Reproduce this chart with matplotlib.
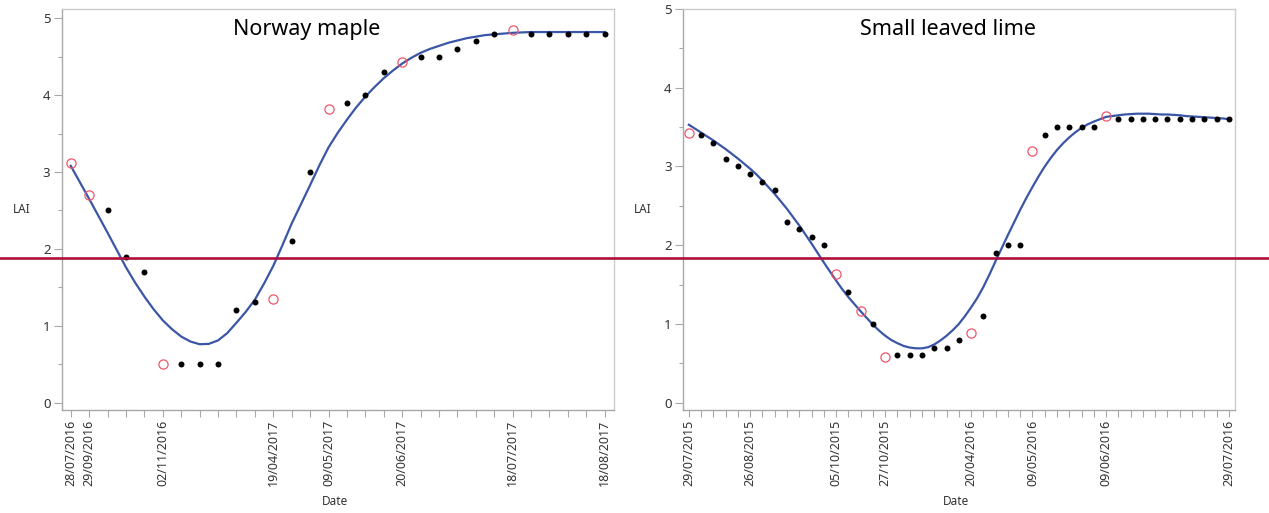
"""
LAI seasonal course for two tree species, with fitted smooth curve.
Points are evenly spaced by sampling date (ordinal x axis).
"""
import matplotlib

matplotlib.use("Agg")
import matplotlib.pyplot as plt
from matplotlib.lines import Line2D
from matplotlib.ticker import MultipleLocator

plt.rcParams["font.family"] = ["Noto Sans", "DejaVu Sans"]

# ---- Norway maple -------------------------------------------------------
maple_lai = [3.12, 2.70, 2.50, 1.90, 1.70, 0.50, 0.50, 0.50, 0.50, 1.20,
             1.31, 1.35, 2.10, 3.00, 3.82, 3.90, 4.00, 4.30, 4.43, 4.50,
             4.50, 4.60, 4.70, 4.80, 4.85, 4.80, 4.80, 4.80, 4.80, 4.80]
maple_open = [0, 1, 5, 11, 14, 18, 24]          # samples drawn as open circles
# fitted curve, read every half sample step
maple_fit = [3.08, 2.865, 2.65, 2.43, 2.21, 1.985, 1.76, 1.56, 1.38, 1.215,
             1.07, 0.955, 0.86, 0.795, 0.76, 0.765, 0.81, 0.905, 1.04, 1.18,
             1.34, 1.55, 1.78, 2.05, 2.33, 2.58, 2.83, 3.085, 3.32, 3.51,
             3.68, 3.84, 3.98, 4.105, 4.22, 4.32, 4.41, 4.485, 4.55, 4.60,
             4.64, 4.68, 4.71, 4.74, 4.76, 4.78, 4.79, 4.80, 4.81, 4.815,
             4.82, 4.82, 4.82, 4.82, 4.82, 4.82, 4.82, 4.82, 4.82]
maple_dates = {0: "28/07/2016", 1: "29/09/2016", 5: "02/11/2016",
               11: "19/04/2017", 14: "09/05/2017", 18: "20/06/2017",
               24: "18/07/2017", 29: "18/08/2017"}

# ---- Small leaved lime --------------------------------------------------
lime_lai = [3.43, 3.40, 3.30, 3.10, 3.00, 2.90, 2.80, 2.70, 2.30, 2.20,
            2.10, 2.00, 1.63, 1.40, 1.16, 1.00, 0.58, 0.60, 0.60, 0.60,
            0.70, 0.70, 0.80, 0.88, 1.10, 1.90, 2.00, 2.00, 3.20, 3.40,
            3.50, 3.50, 3.50, 3.50, 3.64, 3.60, 3.60, 3.60, 3.60, 3.60,
            3.60, 3.60, 3.60, 3.60, 3.60]
lime_open = [0, 12, 14, 16, 23, 28, 34]
lime_fit = [3.53, 3.48, 3.43, 3.38, 3.33, 3.275, 3.22, 3.16, 3.10, 3.035,
            2.97, 2.90, 2.82, 2.735, 2.65, 2.555, 2.46, 2.355, 2.25, 2.135,
            2.02, 1.90, 1.78, 1.665, 1.55, 1.44, 1.34, 1.25, 1.16, 1.075,
            0.99, 0.915, 0.85, 0.795, 0.755, 0.72, 0.70, 0.69, 0.69, 0.705,
            0.74, 0.79, 0.85, 0.92, 1.00, 1.10, 1.21, 1.33, 1.47, 1.63,
            1.80, 1.965, 2.13, 2.29, 2.45, 2.60, 2.74, 2.875, 3.00, 3.11,
            3.21, 3.295, 3.37, 3.435, 3.49, 3.535, 3.57, 3.60, 3.63, 3.64,
            3.65, 3.66, 3.665, 3.67, 3.67, 3.67, 3.665, 3.66, 3.66, 3.655,
            3.65, 3.64, 3.635, 3.63, 3.625, 3.62, 3.615, 3.61, 3.60]
lime_dates = {0: "29/07/2015", 5: "26/08/2015", 12: "05/10/2015",
              16: "27/10/2015", 23: "20/04/2016", 28: "09/05/2016",
              34: "09/06/2016", 44: "29/07/2016"}

FIT_STEP = 0.5            # spacing of the fitted-curve readings
THRESHOLD_Y = 0.4965      # figure-wide reference line (figure fraction)

FIT_COLOR = "#3b56a6"
OPEN_COLOR = "#f0566a"
REF_COLOR = "#b0103a"
SPINE_DARK = "#a8a8a8"
SPINE_LIGHT = "#cccccc"
TEXT = "#333333"


def _draw_panel(ax, lai, open_idx, fit, dates, title, title_x, ylim):
    n = len(lai)
    xs = list(range(n))
    fit_x = [k * FIT_STEP for k in range(len(fit))]
    ax.plot(fit_x, fit, color=FIT_COLOR, lw=1.6, zorder=3,
            solid_joinstyle="round")

    closed = [i for i in xs if i not in open_idx]
    ax.plot(closed, [lai[i] for i in closed], "o", ms=4.3, color="black",
            mec="black", mew=0, zorder=4)
    ax.plot(open_idx, [lai[i] for i in open_idx], "o", ms=6.6, mfc="none",
            mec=OPEN_COLOR, mew=0.9, zorder=4)

    ax.set_xlim(-0.5, n - 0.5)
    ax.set_ylim(*ylim)
    ax.set_xticks(xs)
    ax.set_xticklabels([dates.get(i, "") for i in xs], rotation=90,
                       fontsize=9, color=TEXT)
    ax.yaxis.set_major_locator(MultipleLocator(1))
    ax.yaxis.set_minor_locator(MultipleLocator(0.5))
    ax.tick_params(axis="x", length=5, width=0.8, color=SPINE_DARK, pad=2)
    ax.tick_params(axis="y", which="major", length=6, width=0.8,
                   color=SPINE_DARK, labelsize=9.5, labelcolor=TEXT, pad=2)
    ax.tick_params(axis="y", which="minor", length=3, width=0.8,
                   color=SPINE_DARK)

    for side in ("left", "bottom"):
        ax.spines[side].set_color(SPINE_DARK)
        ax.spines[side].set_linewidth(1.0)
    for side in ("top", "right"):
        ax.spines[side].set_color(SPINE_LIGHT)
        ax.spines[side].set_linewidth(1.0)

    ax.set_ylabel("LAI", rotation=0, fontsize=8.5, color=TEXT,
                  ha="center", va="center")
    ax.yaxis.set_label_coords(-0.072, 0.499)
    ax.set_xlabel("Date", fontsize=8.5, color=TEXT, va="center")
    ax.xaxis.set_label_coords(0.495, -0.229)

    ax.text(title_x, 0.948, title, transform=ax.transAxes, fontsize=15.5,
            ha="center", va="center", color="black")


def main():
    fig = plt.figure(figsize=(12.69, 5.13), dpi=100)
    ax1 = fig.add_axes([0.0485, 0.2008, 0.4353, 0.7817])
    ax2 = fig.add_axes([0.538, 0.2008, 0.4352, 0.7817])

    _draw_panel(ax1, maple_lai, maple_open, maple_fit, maple_dates,
                "Norway maple", 0.443, (-0.095, 5.12))
    _draw_panel(ax2, lime_lai, lime_open, lime_fit, lime_dates,
                "Small leaved lime", 0.48, (-0.093, 5.0))

    fig.add_artist(Line2D([0, 1], [THRESHOLD_Y, THRESHOLD_Y],
                          transform=fig.transFigure, color=REF_COLOR,
                          lw=1.9, zorder=10))

    fig.savefig("out.png", dpi=100)
    plt.close(fig)


if __name__ == "__main__":
    main()
